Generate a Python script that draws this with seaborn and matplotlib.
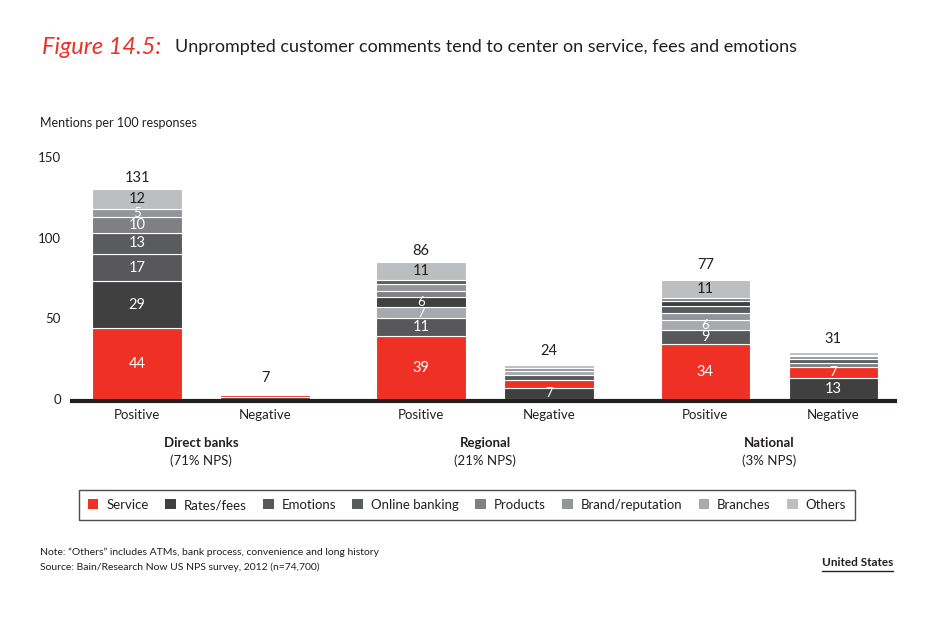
# ==========================================
# Figure 14.5 - Unprompted customer comments
# Stacked bars: mentions per 100 responses
# ==========================================

import numpy as np
import pandas as pd

import matplotlib
matplotlib.use("Agg")
import matplotlib.pyplot as plt
from matplotlib.patches import Patch
from matplotlib.lines import Line2D
import seaborn as sns

# ==========================================
# Data
# ==========================================

groups = ["Direct banks", "Regional", "National"]
nps_labels = ["(71% NPS)", "(21% NPS)", "(3% NPS)"]
sides = ["Positive", "Negative"]

categories = ["Service", "Rates/fees", "Emotions", "Online banking",
              "Products", "Brand/reputation", "Branches", "Others"]

# order of bars: Direct +, Direct -, Regional +, Regional -, National +, National -
service = [44, 1.2, 39, 4.6, 34, 7]
rates_fees = [29, 1.3, 6, 7, 3, 13]
emotions = [17, 0, 11, 3, 9, 0]
online_banking = [13, 0, 3, 0, 4, 2]
products = [10, 0, 4, 0, 2, 2.5]
brand_reputation = [5, 0, 4, 1.5, 4.5, 2]
branches = [0, 0, 7, 3, 6, 1]
others = [12, 0, 11, 2, 11, 1.5]

totals = [131, 7, 86, 24, 77, 31]

colors = ["#ee3124", "#404041", "#58585a", "#5a5b5d",
          "#808083", "#939598", "#a7a9ac", "#bcbec0"]

MIN_LABEL = 5

# ==========================================
# Table
# ==========================================

df = pd.DataFrame(
    [service, rates_fees, emotions, online_banking,
     products, brand_reputation, branches, others],
    index=categories,
)

bar_x = [g * 2.22 + s for g in range(len(groups)) for s in range(len(sides))]

# ==========================================
# Style
# ==========================================

sns.set_theme(style="white")
plt.rcParams["font.family"] = ["Lato", "DejaVu Sans"]
text_dark = "#231f20"

fig = plt.figure(figsize=(9.5, 6.37), dpi=100)
W, H = 950, 637

# px scale: 0 at y=401, 150 at y=157; bar step 128 px, first bar centre at x=137
ax = fig.add_axes([72 / W, 1 - 399 / H, (895 - 72) / W, (399 - 157) / H])

# ==========================================
# Stacked bars (largest at the bottom, Others on top)
# ==========================================

for i, x in enumerate(bar_x):
    col = df[i]
    main = col.drop("Others")
    order = list(main.sort_values(ascending=False, kind="stable").index) + ["Others"]
    bottom = 0
    for cat in order:
        v = col[cat]
        if v <= 0:
            continue
        c = colors[categories.index(cat)]
        ax.bar(x, v, bottom=bottom, width=0.70, color=c,
               edgecolor="white", linewidth=0.8, zorder=2)
        if v >= MIN_LABEL:
            ax.text(x, bottom + v / 2, f"{v:g}", ha="center", va="center",
                    fontsize=10.5 if v >= 8 else 9.5,
                    color=text_dark if cat == "Others" else "white",
                    zorder=3)
        bottom += v

    ax.text(x, totals[i] + 6, str(totals[i]), ha="center", va="center",
            fontsize=10.5, color=text_dark)

# ==========================================
# Axes
# ==========================================

ax.set_ylim(0, 150)
ax.set_xlim(-(137 - 72) / 128, (895 - 137) / 128)

for s in ["top", "right", "left"]:
    ax.spines[s].set_visible(False)
ax.spines["bottom"].set_linewidth(3)
ax.spines["bottom"].set_color(text_dark)
ax.spines["bottom"].set_position(("outward", 1.5))
ax.spines["bottom"].set_zorder(4)

ax.set_yticks([0, 50, 100, 150])
ax.set_xticks(bar_x)
ax.set_xticklabels(sides * len(groups))
ax.tick_params(axis="both", length=0, labelsize=9.5, colors=text_dark)
ax.tick_params(axis="x", pad=6)
ax.tick_params(axis="y", pad=8)
ax.grid(False)

for g, name in enumerate(groups):
    cx = (bar_x[2 * g] + bar_x[2 * g + 1]) / 2
    ax.text(cx, -27.5, name, ha="center", va="center", fontsize=9.5,
            fontweight="bold", color=text_dark, clip_on=False)
    ax.text(cx, -38.5, nps_labels[g], ha="center", va="center", fontsize=9.5,
            color=text_dark, clip_on=False)

fig.text(40 / W, 1 - 123 / H, "Mentions per 100 responses", fontsize=9,
         va="center", color=text_dark)

# ==========================================
# Legend
# ==========================================

handles = [Patch(facecolor=c, edgecolor="none") for c in colors]
leg = fig.legend(handles, categories, ncol=len(categories), loc="center",
                 bbox_to_anchor=(467 / W, 1 - 505 / H), frameon=True,
                 fancybox=False, edgecolor=text_dark, fontsize=9.5,
                 handlelength=0.8, handleheight=0.8, handletextpad=0.6,
                 columnspacing=1.25, borderpad=0.7)
leg.get_frame().set_linewidth(1.0)
for t in leg.get_texts():
    t.set_color(text_dark)

# ==========================================
# Title and notes
# ==========================================

t1 = fig.text(42 / W, 1 - 47 / H, "Figure 14.5:", color="#ee3124",
              fontsize=17, style="italic", va="center")
fig.canvas.draw()
ext = t1.get_window_extent()
fig.text((ext.x1 + 14) / W, 1 - 47 / H,
         "Unprompted customer comments tend to center on service, fees and emotions",
         fontsize=13, va="center", color=text_dark)

fig.text(40 / W, 1 - 552 / H,
         "Note: \u201cOthers\u201d includes ATMs, bank process, convenience and long history",
         fontsize=7.5, va="center", color=text_dark)
fig.text(40 / W, 1 - 567 / H,
         "Source: Bain/Research Now US NPS survey, 2012 (n=74,700)",
         fontsize=7.5, va="center", color=text_dark)

us = fig.text(893 / W, 1 - 563 / H, "United States", fontsize=8.5,
              fontweight="bold", ha="right", va="center", color=text_dark)
fig.canvas.draw()
ue = us.get_window_extent()
fig.add_artist(Line2D([ue.x0 / W, ue.x1 / W], [(ue.y0 - 2) / H] * 2,
                      color=text_dark, linewidth=1.0))

fig.savefig("out.png", dpi=100)
